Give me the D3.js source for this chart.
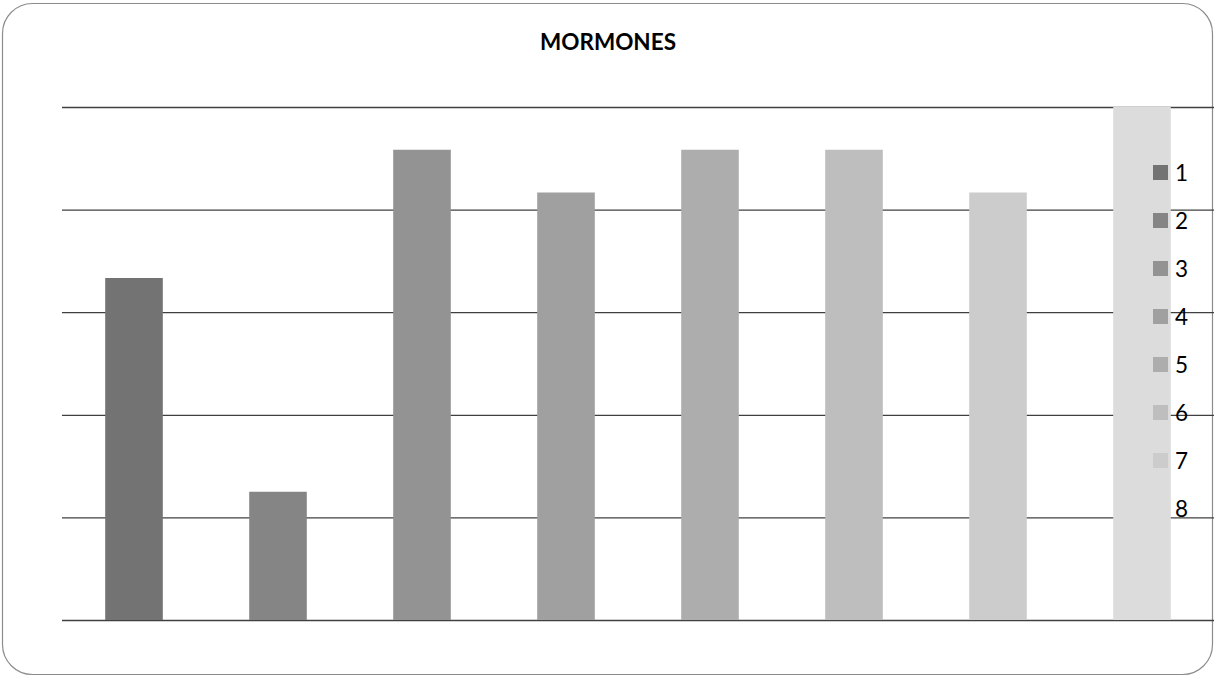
<!DOCTYPE html>
<html>
<head>
<meta charset="utf-8">
<style>
body { margin: 0; background: #fff; }
.grid line { stroke: #404040; stroke-width: 1.3; }
.grid path { display: none; }
text { font-family: Lato, "Open Sans", sans-serif; fill: #000; }
</style>
</head>
<body>
<div id="vis"></div>
<script src="https://cdn.jsdelivr.net/npm/d3@7"></script>
<script>
// chart data
var categories = ["1", "2", "3", "4", "5", "6", "7", "8"];
var values = [8, 3, 11, 10, 11, 11, 10, 12];
var colors = ["#737373", "#858585", "#939393", "#a0a0a0", "#adadad", "#bebebe", "#cccccc", "#dcdcdc"];
var tickValues = [0, 2.4, 4.8, 7.2, 9.6, 12];
var title = "MORMONES";

var W = 1214, H = 676;
var margin = {top: 107, right: 0, bottom: 56, left: 62},
    width = W - margin.left - margin.right,
    height = H - margin.top - margin.bottom;

var svgRoot = d3.select("#vis").append("svg")
    .attr("width", W)
    .attr("height", H);

// outer rounded frame
svgRoot.append("rect")
    .attr("x", 2.5).attr("y", 3.5)
    .attr("width", W - 4).attr("height", H - 5)
    .attr("rx", 30).attr("ry", 30)
    .attr("fill", "#fff")
    .attr("stroke", "#8c8c8c")
    .attr("stroke-width", 1.2);

svgRoot.append("text")
    .attr("x", 608).attr("y", 50)
    .attr("text-anchor", "middle")
    .style("font-weight", "bold")
    .style("font-size", "22.5px")
    .text(title);

var svg = svgRoot.append("g")
    .attr("transform", "translate(" + margin.left + "," + margin.top + ")");

var x = d3.scaleBand()
    .domain(categories)
    .range([0, width])
    .paddingInner(0.6)
    .paddingOuter(0.3);

var y = d3.scaleLinear()
    .domain([0, 12])
    .range([height, 0]);

// gridlines, no labels
svg.append("g")
    .attr("class", "grid")
    .call(d3.axisLeft(y).tickValues(tickValues).tickSize(-width).tickFormat(""));

svg.selectAll(".bar")
    .data(values)
  .enter().append("rect")
    .attr("class", "bar")
    .attr("x", function(d, i) { return x(categories[i]); })
    .attr("width", x.bandwidth())
    .attr("y", function(d) { return y(d); })
    .attr("height", function(d) { return height - y(d); })
    .attr("fill", function(d, i) { return colors[i]; });

// legend
var legend = svgRoot.append("g")
    .attr("transform", "translate(1153,165)");

var item = legend.selectAll(".item")
    .data(categories)
  .enter().append("g")
    .attr("class", "item")
    .attr("transform", function(d, i) { return "translate(0," + (i * 48) + ")"; });

item.append("rect")
    .attr("width", 15).attr("height", 15)
    .attr("fill", function(d, i) { return colors[i]; });

item.append("text")
    .attr("x", 22).attr("y", 15.5)
    .style("font-size", "22.5px")
    .text(function(d) { return d; });
</script>
</body>
</html>
